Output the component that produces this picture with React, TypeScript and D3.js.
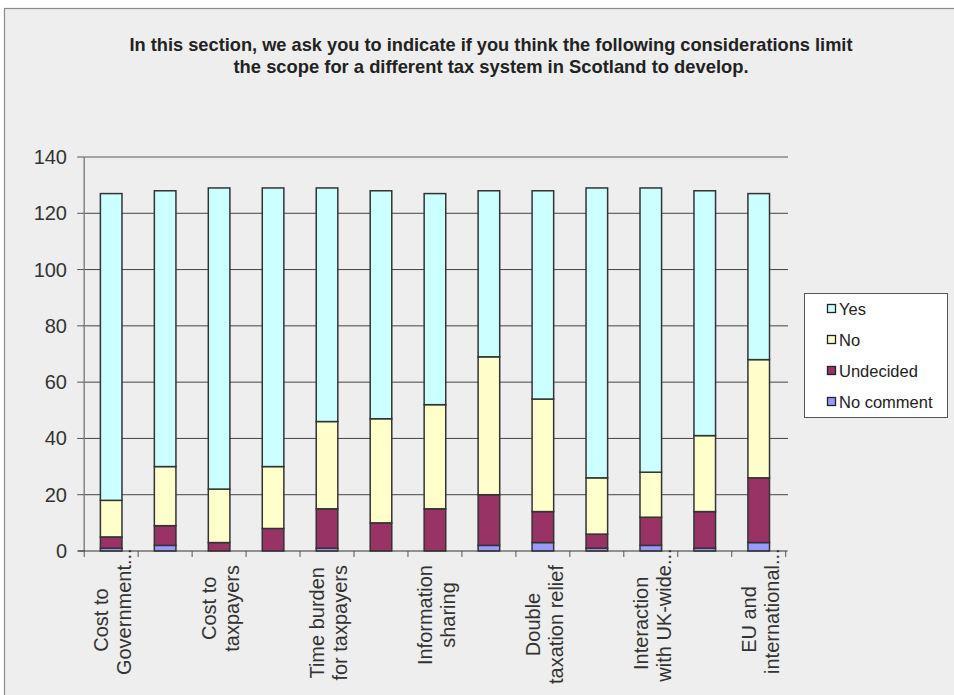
import React, { useEffect, useRef } from "react";
import * as d3 from "d3";

const titleLines = [
  "In this section, we ask you to indicate if you think the following considerations limit",
  "the scope for a different tax system in Scotland to develop.",
];

const categoryIds = ["c1", "c2", "c3", "c4", "c5", "c6", "c7", "c8", "c9", "c10", "c11", "c12", "c13"];
const categoryLabels: string[][] = [
  ["Cost to", "Government..."],
  [],
  ["Cost to", "taxpayers"],
  [],
  ["Time burden", "for taxpayers"],
  [],
  ["Information", "sharing"],
  [],
  ["Double", "taxation relief"],
  [],
  ["Interaction", "with UK-wide..."],
  [],
  ["EU and", "international..."],
];

const seriesNames = ["No comment", "Undecided", "No", "Yes"];
const seriesColors = ["#9999FF", "#993366", "#FFFFCC", "#CCFFFF"];

const noCommentValues = [1, 2, 0, 0, 1, 0, 0, 2, 3, 1, 2, 1, 3];
const undecidedValues = [4, 7, 3, 8, 14, 10, 15, 18, 11, 5, 10, 13, 23];
const noValues = [13, 21, 19, 22, 31, 37, 37, 49, 40, 20, 16, 27, 42];
const yesValues = [109, 98, 107, 99, 83, 81, 75, 59, 74, 103, 101, 87, 59];

const yTicks = [0, 20, 40, 60, 80, 100, 120, 140];

export default function App() {
  const ref = useRef<SVGSVGElement>(null);

  useEffect(() => {
    const svg = d3.select(ref.current);
    svg.selectAll("*").remove();

    svg.append("rect").attr("x", 0).attr("y", 0).attr("width", 954).attr("height", 695).attr("fill", "#ffffff");
    svg
      .append("rect")
      .attr("x", 4.5)
      .attr("y", 8.5)
      .attr("width", 980)
      .attr("height", 720)
      .attr("fill", "#eeeeee")
      .attr("stroke", "#8c8c8c")
      .attr("stroke-width", 1.2);

    // Title
    const titleLens = [723, 515];
    const titleYs = [51, 73];
    titleLines.forEach((t, i) => {
      svg
        .append("text")
        .attr("x", 491)
        .attr("y", titleYs[i])
        .attr("text-anchor", "middle")
        .attr("font-family", "Liberation Sans, Arial, sans-serif")
        .attr("font-weight", "bold")
        .attr("font-size", 19)
        .attr("fill", "#222")
        .attr("textLength", titleLens[i])
        .attr("lengthAdjust", "spacingAndGlyphs")
        .text(t);
    });

    const left = 84.2;
    const right = 785.7;
    const y = d3.scaleLinear().domain([0, 140]).range([551, 157]);
    const x = d3
      .scaleBand<string>()
      .domain(categoryIds)
      .range([left, right])
      .paddingInner(0.6)
      .paddingOuter(0.3);

    // gridlines
    yTicks.forEach((t) => {
      if (t === 0) return;
      svg
        .append("line")
        .attr("x1", left)
        .attr("x2", 788)
        .attr("y1", y(t))
        .attr("y2", y(t))
        .attr("stroke", t === 140 ? "#8a8a8a" : "#444")
        .attr("stroke-width", t === 140 ? 1.6 : 1);
    });

    // y axis
    svg
      .append("line")
      .attr("x1", left)
      .attr("x2", left)
      .attr("y1", y(140))
      .attr("y2", y(0))
      .attr("stroke", "#8a8a8a")
      .attr("stroke-width", 1.6);
    yTicks.forEach((t) => {
      svg
        .append("line")
        .attr("x1", left - 7)
        .attr("x2", left)
        .attr("y1", y(t))
        .attr("y2", y(t))
        .attr("stroke", "#555")
        .attr("stroke-width", 1);
      svg
        .append("text")
        .attr("x", 67)
        .attr("y", y(t) + 7)
        .attr("text-anchor", "end")
        .attr("font-family", "Liberation Sans, Arial, sans-serif")
        .attr("font-size", 20)
        .attr("fill", "#333")
        .text(String(t));
    });

    // bars
    const series = [noCommentValues, undecidedValues, noValues, yesValues];
    const rows = categoryIds.map((id, i) => {
      const r: any = { id };
      seriesNames.forEach((s, k) => (r[s] = series[k][i]));
      return r;
    });
    const stacked = d3.stack<any>().keys(seriesNames)(rows);
    stacked.forEach((layer, k) => {
      layer.forEach((seg, i) => {
        if (seg[1] - seg[0] <= 0) return;
        svg
          .append("rect")
          .attr("x", x(categoryIds[i])!)
          .attr("width", x.bandwidth())
          .attr("y", y(seg[1]))
          .attr("height", y(seg[0]) - y(seg[1]))
          .attr("fill", seriesColors[k])
          .attr("stroke", "#333")
          .attr("stroke-width", 1.5);
      });
    });

    // x axis
    svg
      .append("line")
      .attr("x1", left - 6)
      .attr("x2", right + 2)
      .attr("y1", y(0))
      .attr("y2", y(0))
      .attr("stroke", "#333")
      .attr("stroke-width", 1.2);
    const step = x.step();
    for (let i = 0; i <= categoryIds.length; i++) {
      const tx = left + i * step;
      svg
        .append("line")
        .attr("x1", tx)
        .attr("x2", tx)
        .attr("y1", y(0))
        .attr("y2", y(0) + 6)
        .attr("stroke", "#555")
        .attr("stroke-width", 1);
    }

    // x labels
    const measure = svg
      .append("text")
      .attr("font-family", "Liberation Sans, Arial, sans-serif")
      .attr("font-size", 20)
      .attr("visibility", "hidden");
    const widthOf = (s: string) => {
      measure.text(s);
      return (measure.node() as SVGTextElement).getComputedTextLength();
    };
    const topY = 565;
    categoryLabels.forEach((lines, i) => {
      if (!lines.length) return;
      const cx = x(categoryIds[i])! + x.bandwidth() / 2;
      const ws = lines.map((l) => widthOf(l.replace(/\.\.\.$/, "")));
      const lmax = Math.max(...ws);
      lines.forEach((l, j) => {
        const bx = cx - 3 + j * 23;
        const by = topY + (lmax + ws[j]) / 2;
        svg
          .append("text")
          .attr("transform", `translate(${bx},${by}) rotate(-90)`)
          .attr("text-anchor", "start")
          .attr("font-family", "Liberation Sans, Arial, sans-serif")
          .attr("font-size", 20)
          .attr("fill", "#333")
          .text(l);
      });
    });
    measure.remove();

    // legend
    const lg = svg.append("g");
    lg.append("rect")
      .attr("x", 804.5)
      .attr("y", 293.5)
      .attr("width", 143)
      .attr("height", 124)
      .attr("fill", "#ffffff")
      .attr("stroke", "#555")
      .attr("stroke-width", 1);
    const legendOrder = [3, 2, 1, 0];
    legendOrder.forEach((k, r) => {
      const cy = 309 + r * 31;
      lg.append("rect")
        .attr("x", 827.5)
        .attr("y", cy - 4.5)
        .attr("width", 8)
        .attr("height", 8)
        .attr("fill", seriesColors[k])
        .attr("stroke", "#222")
        .attr("stroke-width", 1.3);
      lg.append("text")
        .attr("x", 839)
        .attr("y", cy + 6)
        .attr("font-family", "Liberation Sans, Arial, sans-serif")
        .attr("font-size", 16.5)
        .attr("fill", "#222")
        .text(seriesNames[k]);
    });
  }, []);

  return (
    <svg
      ref={ref}
      width={954}
      height={695}
      style={{ position: "absolute", left: 0, top: 0, display: "block" }}
    />
  );
}
